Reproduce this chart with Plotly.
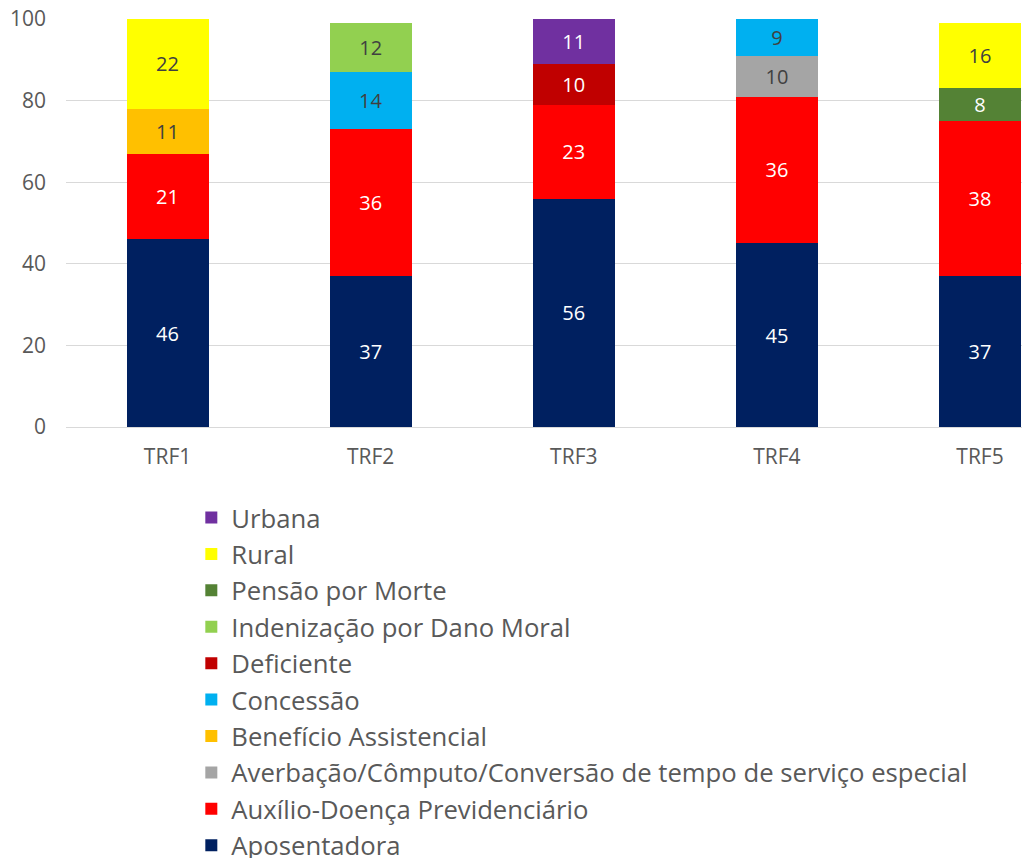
import plotly.graph_objects as go

categories = ["TRF1", "TRF2", "TRF3", "TRF4", "TRF5"]

series_names = [
    "Aposentadora",
    "Auxílio-Doença Previdenciário",
    "Averbação/Cômputo/Conversão de tempo de serviço especial",
    "Benefício Assistencial",
    "Concessão",
    "Deficiente",
    "Indenização por Dano Moral",
    "Pensão por Morte",
    "Rural",
    "Urbana",
]

aposentadora = [46, 37, 56, 45, 37]
auxilio = [21, 36, 23, 36, 38]
averbacao = [None, None, None, 10, None]
beneficio = [11, None, None, None, None]
concessao = [None, 14, None, 9, None]
deficiente = [None, None, 10, None, None]
indenizacao = [None, 12, None, None, None]
pensao = [None, None, None, None, 8]
rural = [22, None, None, None, 16]
urbana = [None, None, 11, None, None]

series_values = [aposentadora, auxilio, averbacao, beneficio, concessao,
                 deficiente, indenizacao, pensao, rural, urbana]

colors = ["#002060", "#FF0000", "#A5A5A5", "#FFC000", "#00B0F0",
          "#C00000", "#92D050", "#548235", "#FFFF00", "#7030A0"]
text_colors = ["#FFFFFF", "#FFFFFF", "#404040", "#404040", "#404040",
               "#FFFFFF", "#404040", "#FFFFFF", "#404040", "#FFFFFF"]

FONT = "Open Sans, Noto Sans, sans-serif"

fig = go.Figure()
n = len(series_names)
for i, (name, vals, col, tcol) in enumerate(zip(series_names, series_values, colors, text_colors)):
    fig.add_trace(go.Bar(
        name=name,
        legendgroup=name,
        legendrank=(n - i) * 10,
        x=categories,
        y=vals,
        marker=dict(color=col, line=dict(width=0)),
        width=0.404,
        text=[("" if v is None else str(v)) for v in vals],
        textposition="inside",
        insidetextanchor="middle",
        textangle=0,
        textfont=dict(color=tcol, size=20, family=FONT),
        hoverinfo="x+y+name",
    ))

# The page body has an 8px margin, so margins are offset by 8px.
fig.update_layout(
    barmode="stack",
    width=1030,
    height=858,
    margin=dict(l=58, r=8, t=11, b=439, autoexpand=False),
    paper_bgcolor="white",
    plot_bgcolor="white",
    font=dict(family=FONT, color="#595959"),
    xaxis=dict(
        range=[-0.5, 4.246],
        showgrid=False,
        showline=False,
        ticks="",
        automargin=False,
        ticklabelstandoff=15,
        ticklabeloverflow="allow",
        tickfont=dict(size=21, color="#595959", family=FONT),
    ),
    yaxis=dict(
        range=[0, 100],
        tickvals=[0, 20, 40, 60, 80, 100],
        showgrid=True,
        gridcolor="#D9D9D9",
        gridwidth=1,
        zeroline=True,
        zerolinecolor="#D9D9D9",
        zerolinewidth=1,
        ticks="",
        automargin=False,
        ticklabelstandoff=19,
        ticklabeloverflow="allow",
        tickfont=dict(size=21, color="#595959", family=FONT),
    ),
    legend=dict(
        orientation="v",
        traceorder="grouped",
        tracegroupgap=0,
        x=0.13,
        xanchor="left",
        y=-0.165,
        yanchor="top",
        font=dict(size=25.7, color="#595959", family=FONT),
        itemwidth=30,
        bgcolor="rgba(0,0,0,0)",
    ),
    uniformtext=dict(minsize=20, mode="show"),
    showlegend=True,
)

fig.write_html("out.html")
